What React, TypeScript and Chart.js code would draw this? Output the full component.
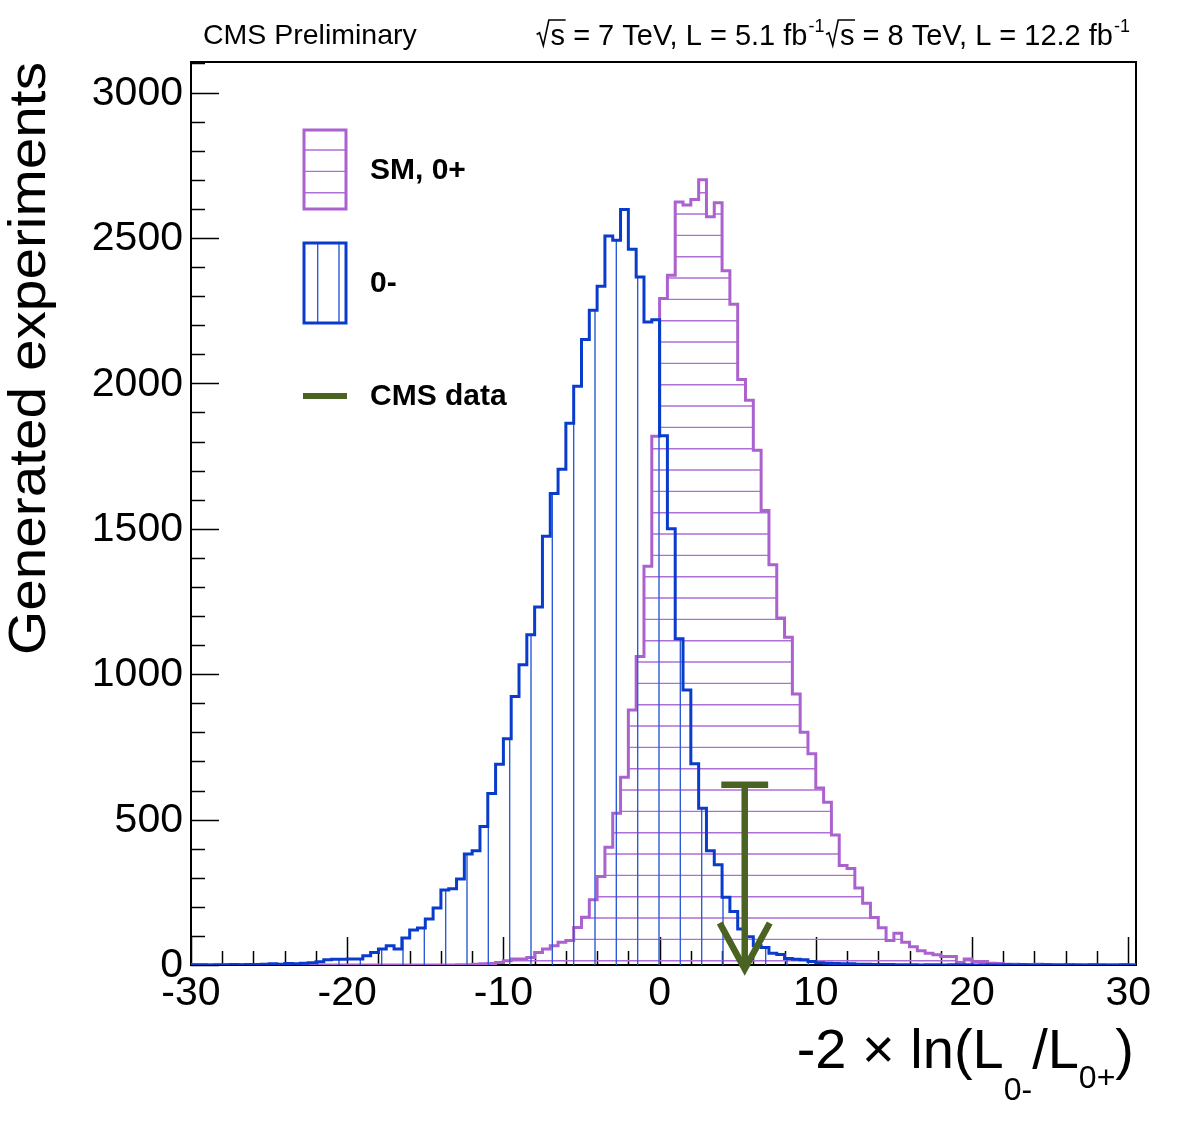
import React, { useEffect, useRef } from "react";
import { Chart, registerables } from "chart.js";

Chart.register(...registerables);

const W = 1181;
const H = 1129;

// ---- binning / axes ----
const BIN_LOW = -30;
const BIN_WIDTH = 0.5;
const X_MIN = -30;
const X_MAX = 30.5;
const Y_MIN = 0;
const Y_MAX = 3105;

const xMajorTicks = [-30, -20, -10, 0, 10, 20, 30];
const xTickLabels = ["-30", "-20", "-10", "0", "10", "20", "30"];
const xMinorStep = 2;
const yMajorTicks = [0, 500, 1000, 1500, 2000, 2500, 3000];
const yTickLabels = ["0", "500", "1000", "1500", "2000", "2500", "3000"];
const yMinorStep = 100;

// ---- series: counts per 0.5-wide bin, starting at -30 ----
const pseudoscalarCounts = [
  1, 1, 0, 1, 1, 2, 1, 2, 2, 3,
  4, 3, 5, 4, 6, 8, 11, 18, 20, 20,
  21, 21, 32, 43, 55, 66, 55, 93, 120, 127,
  158, 196, 258, 262, 296, 382, 393, 476, 590, 690,
  778, 923, 1032, 1136, 1231, 1474, 1621, 1705, 1863, 1990,
  2151, 2251, 2334, 2507, 2492, 2598, 2461, 2366, 2211, 2219,
  1820, 1500, 1122, 946, 692, 539, 393, 345, 233, 184,
  124, 97, 66, 60, 40, 36, 22, 20, 18, 12,
  8, 6, 5, 4, 4, 3, 3, 2, 2, 2,
  1, 1, 1, 0, 1, 1, 0, 1, 0, 1,
  0, 1, 0, 0, 1, 0, 1, 0, 0, 1,
  0, 0, 1, 0, 0, 1, 0, 0, 0, 1,
  0,
];

const smCounts = [
  0, 0, 0, 0, 0, 0, 0, 0, 0, 0,
  0, 0, 0, 0, 0, 0, 0, 0, 0, 0,
  0, 0, 0, 0, 0, 0, 0, 0, 0, 0,
  0, 0, 0, 0, 1, 1, 3, 4, 5, 9,
  15, 21, 21, 26, 43, 55, 66, 78, 84, 129,
  164, 224, 304, 405, 522, 646, 877, 1061, 1371, 1818,
  2292, 2372, 2624, 2613, 2632, 2700, 2573, 2621, 2387, 2272,
  2013, 1942, 1770, 1563, 1376, 1193, 1127, 932, 800, 726,
  609, 560, 447, 342, 332, 265, 212, 163, 128, 84,
  109, 78, 63, 49, 40, 35, 29, 29, 9, 21,
  12, 12, 6, 5, 3, 3, 2, 2, 3, 2,
  1, 1, 0, 1, 0, 0, 1, 0, 0, 0,
  0,
];

// ---- observed data (CMS) ----
const cmsDataValue = 5.45;
const cmsDataArrowTop = 620;
const cmsDataBarHalfWidth = 1.5;

// ---- styles ----
const FONT = '"Liberation Sans", Arial, Helvetica, sans-serif';
const BLUE = "#0a3ccc";
const BLUE_HATCH = "#2d5ad6";
const PURPLE = "#ab62cf";
const PURPLE_HATCH = "#b06fd6";
const GREEN = "#4a6322";

function makeHatch(kind: "h" | "v", color: string): CanvasPattern | string {
  const c = document.createElement("canvas");
  c.width = 64;
  c.height = 64;
  const g = c.getContext("2d");
  if (!g) return color;
  g.strokeStyle = color;
  g.lineWidth = 1.4;
  const offs = kind === "h" ? [0.7, 22.0, 43.4] : [19, 40.33, 61.67];
  for (const o of offs) {
    g.beginPath();
    if (kind === "h") {
      g.moveTo(0, o);
      g.lineTo(64, o);
    } else {
      g.moveTo(o, 0);
      g.lineTo(o, 64);
    }
    g.stroke();
  }
  const p = g.createPattern(c, "repeat");
  return p || color;
}

function toPoints(counts: number[]) {
  const pts: { x: number; y: number }[] = [{ x: BIN_LOW, y: 0 }];
  counts.forEach((c, i) => pts.push({ x: BIN_LOW + i * BIN_WIDTH, y: c }));
  pts.push({ x: BIN_LOW + counts.length * BIN_WIDTH, y: 0 });
  return pts;
}

function line(ctx: CanvasRenderingContext2D, x1: number, y1: number, x2: number, y2: number) {
  ctx.beginPath();
  ctx.moveTo(x1, y1);
  ctx.lineTo(x2, y2);
  ctx.stroke();
}

function drawSqrt(ctx: CanvasRenderingContext2D, x0: number, base: number, F: number, rest: string) {
  const rw = 0.5 * F;
  const tw = ctx.measureText(rest).width;
  ctx.save();
  ctx.lineWidth = 1.6;
  ctx.lineJoin = "miter";
  ctx.beginPath();
  ctx.moveTo(x0 + 0.02 * F, base - 0.36 * F);
  ctx.lineTo(x0 + 0.12 * F, base - 0.42 * F);
  ctx.lineTo(x0 + 0.25 * F, base + 0.02 * F);
  ctx.lineTo(x0 + 0.44 * F, base - 0.86 * F);
  ctx.lineTo(x0 + rw + tw + 0.02 * F, base - 0.86 * F);
  ctx.stroke();
  ctx.restore();
  ctx.fillText(rest, x0 + rw, base);
  return rw + tw;
}

const rootPlugin = {
  id: "rootDecor",
  beforeDatasetsDraw(chart: any) {
    const { ctx, chartArea: a, scales } = chart;
    const xs = scales.x;
    const ys = scales.y;
    ctx.save();
    ctx.strokeStyle = "#000";
    ctx.lineWidth = 2;
    ctx.strokeRect(a.left, a.top, a.right - a.left, a.bottom - a.top);
    ctx.lineWidth = 1.5;
    for (let v = Y_MIN; v <= Y_MAX; v += yMinorStep) {
      const py = Math.round(ys.getPixelForValue(v)) + 0.5;
      const len = yMajorTicks.includes(v) ? 28 : 14;
      line(ctx, a.left, py, a.left + len, py);
    }
    for (let v = X_MIN; v <= X_MAX; v += xMinorStep) {
      const px = Math.round(xs.getPixelForValue(v)) + 0.5;
      const len = xMajorTicks.includes(v) ? 28 : 14;
      line(ctx, px, a.bottom, px, a.bottom - len);
    }
    ctx.restore();
  },
  afterDatasetsDraw(chart: any) {
    const { ctx, chartArea: a, scales } = chart;
    const xs = scales.x;
    const ys = scales.y;
    ctx.save();

    // ---- CMS data arrow ----
    const ax = xs.getPixelForValue(cmsDataValue);
    const atop = ys.getPixelForValue(cmsDataArrowTop);
    const atip = ys.getPixelForValue(0) + 4;
    ctx.strokeStyle = GREEN;
    ctx.lineWidth = 6.5;
    ctx.lineCap = "butt";
    line(ctx, ax, atop, ax, atip - 4);
    line(
      ctx,
      xs.getPixelForValue(cmsDataValue - cmsDataBarHalfWidth),
      atop,
      xs.getPixelForValue(cmsDataValue + cmsDataBarHalfWidth),
      atop
    );
    ctx.lineJoin = "miter";
    ctx.beginPath();
    ctx.moveTo(ax - 25, atip - 46);
    ctx.lineTo(ax, atip);
    ctx.lineTo(ax + 25, atip - 46);
    ctx.stroke();

    // ---- tick labels ----
    ctx.fillStyle = "#000";
    ctx.font = `41px ${FONT}`;
    ctx.textAlign = "right";
    ctx.textBaseline = "middle";
    yMajorTicks.forEach((v, i) => {
      ctx.fillText(yTickLabels[i], a.left - 8, ys.getPixelForValue(v) + 1);
    });
    ctx.textAlign = "center";
    xMajorTicks.forEach((v, i) => {
      ctx.fillText(xTickLabels[i], xs.getPixelForValue(v), a.bottom + 29);
    });

    // ---- y title ----
    ctx.save();
    ctx.font = `52px ${FONT}`;
    const yt = "Generated experiments";
    const ytw = ctx.measureText(yt).width;
    const targetLen = 593;
    ctx.translate(45, a.top);
    ctx.rotate(-Math.PI / 2);
    ctx.scale(targetLen / ytw, 1);
    ctx.textAlign = "right";
    ctx.textBaseline = "alphabetic";
    ctx.fillText(yt, 0, 0);
    ctx.restore();

    // ---- x title: -2 × ln(L_{0-}/L_{0+}) ----
    ctx.textAlign = "left";
    ctx.textBaseline = "alphabetic";
    const big = `56px ${FONT}`;
    const small = `32px ${FONT}`;
    const parts: [string, string, number][] = [
      ["-2 \u00d7 ln(L", big, 1068],
      ["0-", small, 1100],
      ["/L", big, 1068],
      ["0+", small, 1088],
      [")", big, 1068],
    ];
    let total = 0;
    for (const [t, f] of parts) {
      ctx.font = f;
      total += ctx.measureText(t).width;
    }
    let cx = 1134 - total;
    for (const [t, f, b] of parts) {
      ctx.font = f;
      ctx.fillText(t, cx, b);
      cx += ctx.measureText(t).width;
    }

    // ---- header texts ----
    ctx.font = `28.5px ${FONT}`;
    ctx.fillText("CMS Preliminary", 203, 44);

    const F = 29;
    const norm = `${F}px ${FONT}`;
    const sup = `18px ${FONT}`;
    const seq: { t: string; kind: "sqrt" | "n" | "sup" }[] = [
      { t: "s", kind: "sqrt" },
      { t: " = 7 TeV, L = 5.1 fb", kind: "n" },
      { t: "-1", kind: "sup" },
      { t: "s", kind: "sqrt" },
      { t: " = 8 TeV, L = 12.2 fb", kind: "n" },
      { t: "-1", kind: "sup" },
    ];
    const widthOf = (s: { t: string; kind: string }) => {
      ctx.font = s.kind === "sup" ? sup : norm;
      const w = ctx.measureText(s.t).width;
      return s.kind === "sqrt" ? w + 0.5 * F : w + (s.kind === "sup" ? 2 : 0);
    };
    let tot2 = 0;
    seq.forEach((s) => (tot2 += widthOf(s)));
    let hx = 1131 - tot2;
    const hb = 45;
    ctx.strokeStyle = "#000";
    for (const s of seq) {
      if (s.kind === "sqrt") {
        ctx.font = norm;
        hx += drawSqrt(ctx, hx, hb, F, s.t);
      } else if (s.kind === "sup") {
        ctx.font = sup;
        ctx.fillText(s.t, hx + 1, hb - 13);
        hx += ctx.measureText(s.t).width + 2;
      } else {
        ctx.font = norm;
        ctx.fillText(s.t, hx, hb);
        hx += ctx.measureText(s.t).width;
      }
    }

    // ---- legend ----
    const lx = 304;
    const lw = 42;
    ctx.fillStyle = chart.$purpleHatch;
    ctx.fillRect(lx, 130, lw, 79);
    ctx.strokeStyle = PURPLE;
    ctx.lineWidth = 3;
    ctx.strokeRect(lx, 130, lw, 79);
    ctx.fillStyle = chart.$blueHatch;
    ctx.fillRect(lx, 243, lw, 80);
    ctx.strokeStyle = BLUE;
    ctx.strokeRect(lx, 243, lw, 80);
    ctx.strokeStyle = GREEN;
    ctx.lineWidth = 6;
    line(ctx, lx - 1, 396, lx + lw + 1, 396);

    ctx.fillStyle = "#000";
    ctx.font = `bold 30px ${FONT}`;
    ctx.textAlign = "left";
    ctx.textBaseline = "middle";
    ctx.fillText("SM, 0+", 370, 171);
    ctx.fillText("0-", 370, 284);
    ctx.fillText("CMS data", 370, 397);

    ctx.restore();
  },
};

export default function App() {
  const ref = useRef<HTMLCanvasElement | null>(null);
  useEffect(() => {
    const canvas = ref.current;
    if (!canvas) return;
    const blueHatch = makeHatch("v", BLUE_HATCH);
    const purpleHatch = makeHatch("h", PURPLE_HATCH);
    const chart: any = new Chart(canvas, {
      type: "line",
      data: {
        datasets: [
          {
            label: "0-",
            data: toPoints(pseudoscalarCounts),
            stepped: "before",
            borderColor: BLUE,
            borderWidth: 3,
            borderJoinStyle: "miter",
            pointRadius: 0,
            fill: "origin",
            backgroundColor: blueHatch as any,
            tension: 0,
          },
          {
            label: "SM, 0+",
            data: toPoints(smCounts),
            stepped: "before",
            borderColor: PURPLE,
            borderWidth: 3,
            borderJoinStyle: "miter",
            pointRadius: 0,
            fill: "origin",
            backgroundColor: purpleHatch as any,
            tension: 0,
          },
        ],
      },
      options: {
        responsive: false,
        animation: false,
        devicePixelRatio: 1,
        layout: { padding: { left: 191, right: W - 1136, top: 62, bottom: H - 965 } },
        scales: {
          x: { type: "linear", min: X_MIN, max: X_MAX, display: false },
          y: { type: "linear", min: Y_MIN, max: Y_MAX, display: false },
        },
        plugins: { legend: { display: false }, tooltip: { enabled: false } },
        events: [],
      },
      plugins: [rootPlugin as any],
    });
    chart.$blueHatch = blueHatch;
    chart.$purpleHatch = purpleHatch;
    chart.update();
    return () => chart.destroy();
  }, []);
  return (
    <div style={{ position: "absolute", left: 0, top: 0, width: W, height: H, background: "#fff" }}>
      <canvas ref={ref} width={W} height={H} style={{ display: "block", width: W, height: H }} />
    </div>
  );
}
